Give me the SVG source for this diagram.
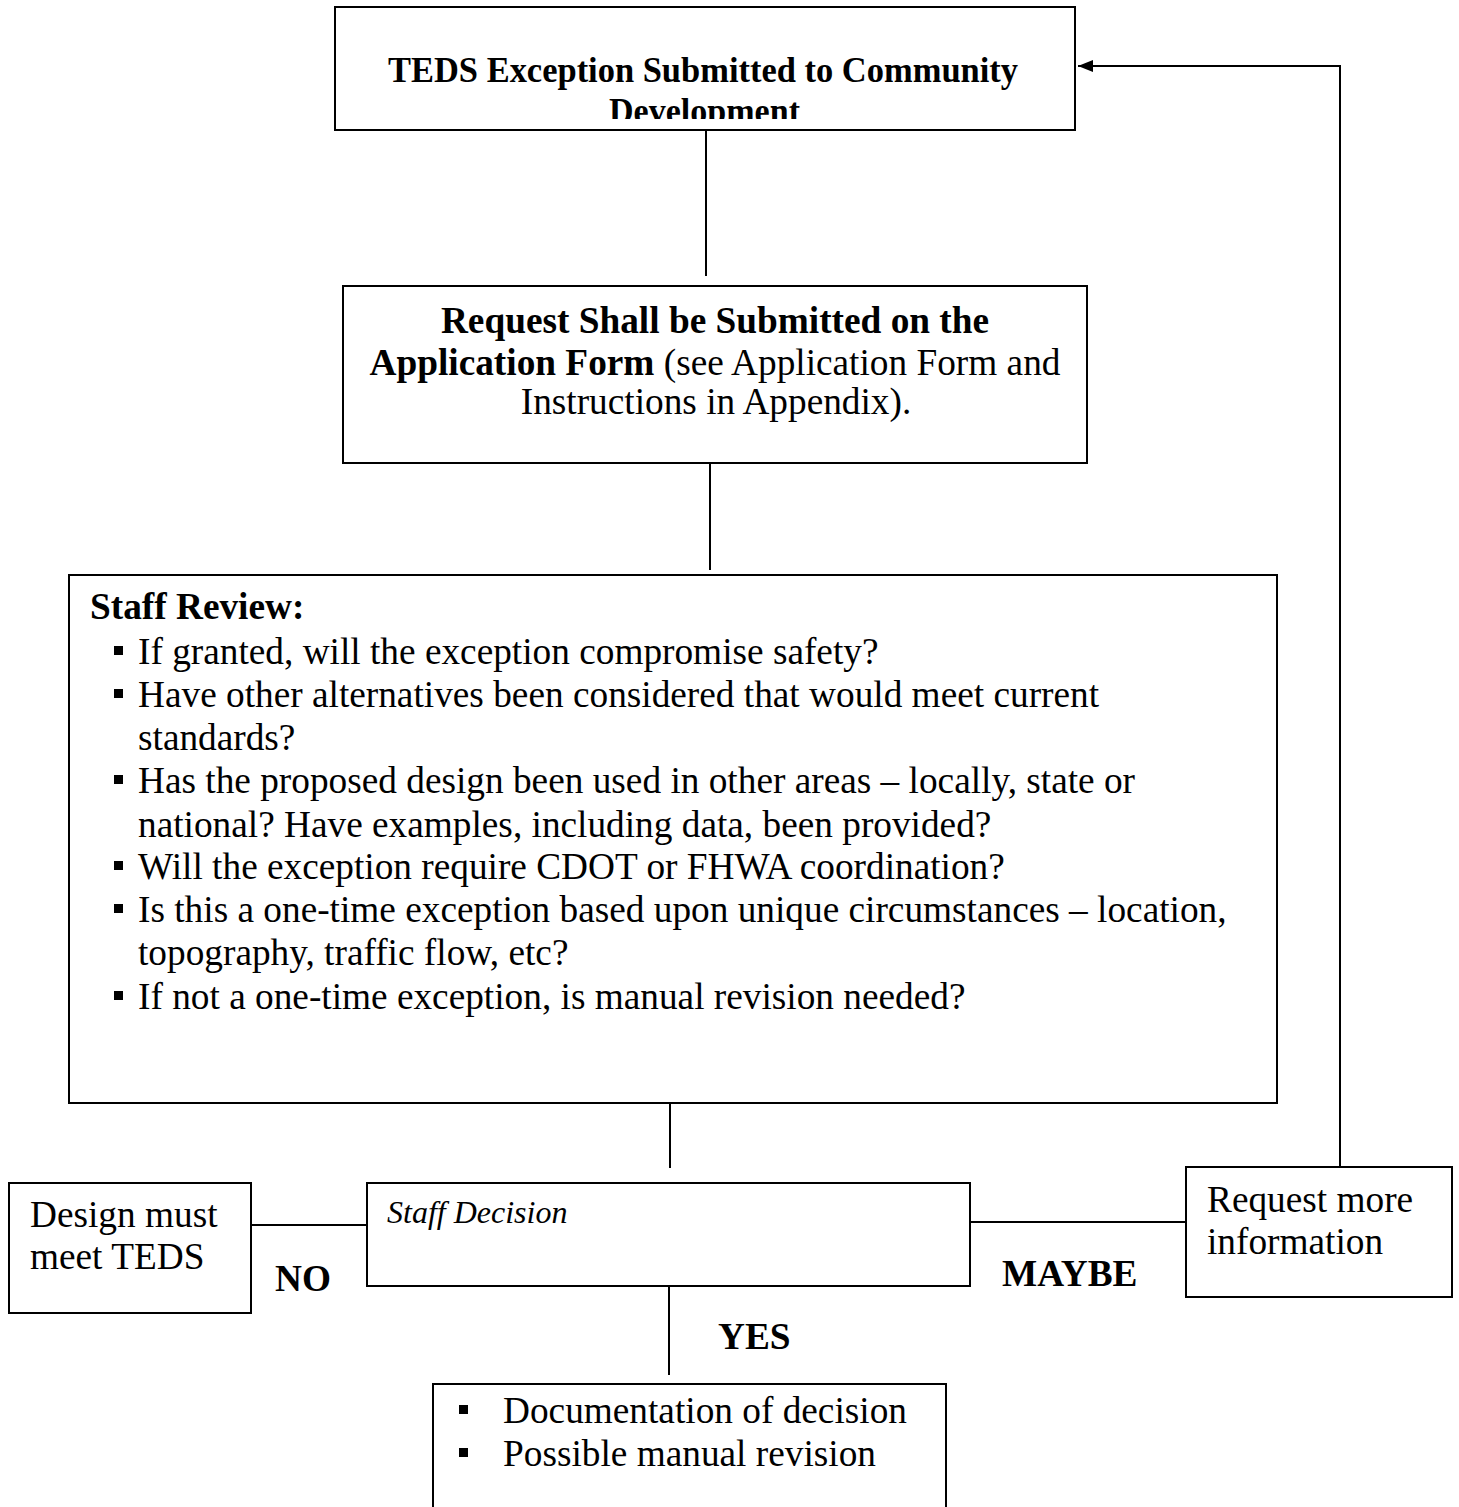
<svg xmlns="http://www.w3.org/2000/svg" width="1459" height="1507" viewBox="0 0 1459 1507">
<style>
  .box { fill: #fff; stroke: #000; stroke-width: 2; }
  .ln { fill: none; stroke: #000; stroke-width: 2; }
  text { font-family: "Liberation Serif", "Times New Roman", serif; fill: #000; }
  .t { font-size: 37.3px; }
  .b { font-weight: bold; }
  .i { font-style: italic; }
  .bul { fill: #000; }
</style>
<defs>
  <marker id="arr" markerWidth="15" markerHeight="12" refX="15" refY="6" orient="auto" markerUnits="userSpaceOnUse" viewBox="0 0 15 12">
    <path d="M0,0 L15,6 L0,12 z" fill="#000"/>
  </marker>
  <clipPath id="clipTop"><rect x="336" y="8" width="738" height="111"/></clipPath>
</defs>
<rect width="1459" height="1507" fill="#fff"/>

<g id="connectors">
  <line class="ln" x1="706" y1="130" x2="706" y2="276"/>
  <line class="ln" x1="710" y1="463" x2="710" y2="570"/>
  <line class="ln" x1="670" y1="1103" x2="670" y2="1168"/>
  <line class="ln" x1="251" y1="1225" x2="367" y2="1225"/>
  <line class="ln" x1="970" y1="1222" x2="1186" y2="1222"/>
  <line class="ln" x1="669" y1="1286" x2="669" y2="1375"/>
  <polyline class="ln" points="1340,1167 1340,66 1078,66" marker-end="url(#arr)"/>
  <text class="t b" x="275" y="1291">NO</text>
  <text class="t b" x="1002" y="1286">MAYBE</text>
  <text class="t b" x="718" y="1349">YES</text>
</g>

<g id="node-submitted">
  <rect class="box" x="335" y="7" width="740" height="123"/>
  <g clip-path="url(#clipTop)">
    <text class="b" font-size="36" x="388" y="82" textLength="630" lengthAdjust="spacingAndGlyphs">TEDS Exception Submitted to Community</text>
    <text class="b" font-size="36" x="609" y="123" textLength="191" lengthAdjust="spacingAndGlyphs">Development</text>
  </g>
</g>

<g id="node-request">
  <rect class="box" x="343" y="286" width="744" height="177"/>
  <text class="t b" x="715" y="333" text-anchor="middle">Request Shall be Submitted on the</text>
  <text class="t" x="715" y="375" text-anchor="middle"><tspan class="b">Application Form</tspan> (see Application Form and</text>
  <text class="t" x="716" y="414" text-anchor="middle">Instructions in Appendix).</text>
</g>

<g id="node-review">
  <rect class="box" x="69" y="575" width="1208" height="528"/>
  <text class="t b" x="90" y="619">Staff Review:</text>
  <rect class="bul" x="114" y="646" width="9" height="9"/>
  <text class="t" x="138" y="664">If granted, will the exception compromise safety?</text>
  <rect class="bul" x="114" y="689" width="9" height="9"/>
  <text class="t" x="138" y="707">Have other alternatives been considered that would meet current</text>
  <text class="t" x="138" y="750">standards?</text>
  <rect class="bul" x="114" y="775" width="9" height="9"/>
  <text class="t" x="138" y="793">Has the proposed design been used in other areas – locally, state or</text>
  <text class="t" x="138" y="837">national?  Have examples, including data, been provided?</text>
  <rect class="bul" x="114" y="861" width="9" height="9"/>
  <text class="t" x="138" y="879">Will the exception require CDOT or FHWA coordination?</text>
  <rect class="bul" x="114" y="904" width="9" height="9"/>
  <text class="t" x="138" y="922">Is this a one-time exception based upon unique circumstances – location,</text>
  <text class="t" x="138" y="965">topography, traffic flow, etc?</text>
  <rect class="bul" x="114" y="991" width="9" height="9"/>
  <text class="t" x="138" y="1009">If not a one-time exception, is manual revision needed?</text>
</g>

<g id="node-design">
  <rect class="box" x="9" y="1183" width="242" height="130"/>
  <text class="t" x="30" y="1227">Design must</text>
  <text class="t" x="30" y="1269">meet TEDS</text>
</g>

<g id="node-decision">
  <rect class="box" x="367" y="1183" width="603" height="103"/>
  <text class="i" font-size="32" x="387" y="1223">Staff Decision</text>
</g>

<g id="node-more">
  <rect class="box" x="1186" y="1167" width="266" height="130"/>
  <text class="t" x="1207" y="1212">Request more</text>
  <text class="t" x="1207" y="1254">information</text>
</g>

<g id="node-yes">
  <rect class="box" x="433" y="1384" width="513" height="140"/>
  <rect class="bul" x="459" y="1405" width="9" height="9"/>
  <text class="t" x="503" y="1423">Documentation of decision</text>
  <rect class="bul" x="459" y="1448" width="9" height="9"/>
  <text class="t" x="503" y="1466">Possible manual revision</text>
</g>
</svg>
